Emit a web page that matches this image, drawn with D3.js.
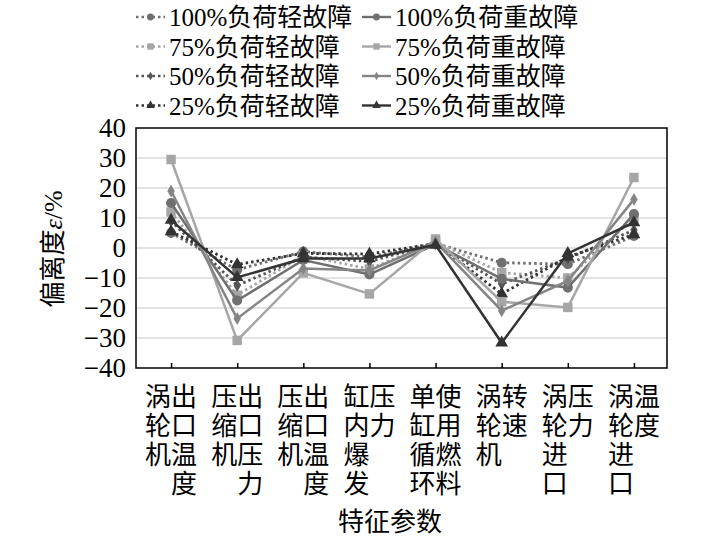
<!DOCTYPE html>
<html>
<head>
<meta charset="utf-8">
<script src="https://cdn.jsdelivr.net/npm/d3@7"></script>
<style>
  body { margin: 0; background: #fff; }
  text { font-family: "Liberation Serif", "Times New Roman", "DejaVu Serif", "Noto Sans CJK SC", serif; fill: #000; }
</style>
</head>
<body>
<div class="chart"></div>
<script>
// categories, each as two vertical columns of characters
const categories = ["涡轮机出口温度", "压缩机出口压力", "压缩机出口温度", "缸内爆发压力",
    "单缸循环使用燃料", "涡轮机转速", "涡轮进口压力", "涡轮进口温度"];
const labelCols = [["涡轮机", "出口温度"], ["压缩机", "出口压力"], ["压缩机", "出口温度"], ["缸内爆发", "压力"],
    ["单缸循环", "使用燃料"], ["涡轮机", "转速"], ["涡轮进口", "压力"], ["涡轮进口", "温度"]];

const seriesNames = ["100%负荷轻故障", "75%负荷轻故障", "50%负荷轻故障", "25%负荷轻故障",
    "100%负荷重故障", "75%负荷重故障", "50%负荷重故障", "25%负荷重故障"];

const light100 = [5, -7.3, -1.2, -3, 1.5, -4.9, -5.4, 4];
const light75 = [12, -15.7, -2.5, -7, 2, -8.2, -10, 10];
const light50 = [9, -12.5, -3, -4.5, 1.5, -12, -3.5, 6];
const light25 = [5.5, -5.5, -1.8, -2, 1.5, -15.3, -3, 4.5];
const heavy100 = [15, -17.5, -4, -8.8, 1.2, -10.3, -13.2, 11.3];
const heavy75 = [29.5, -30.8, -8.3, -15.3, 3, -17.9, -19.8, 23.5];
const heavy50 = [19, -23.5, -6.8, -7.5, 2, -20.9, -11, 16.2];
const heavy25 = [9.3, -9.8, -3.5, -3.5, 1, -31.6, -1.8, 8.5];

const yTicks = [-40, -30, -20, -10, 0, 10, 20, 30, 40];

const seriesValues = [light100, light75, light50, light25, heavy100, heavy75, heavy50, heavy25];
const colors = ["#707070", "#a6a6a6", "#555555", "#333333", "#707070", "#a6a6a6", "#858585", "#333333"];
const symbols = [d3.symbolCircle, d3.symbolSquare, d3.symbolDiamond, d3.symbolTriangle,
    d3.symbolCircle, d3.symbolSquare, d3.symbolDiamond, d3.symbolTriangle];
const symSizes = [80, 90, 48, 70, 80, 90, 48, 70];

const W = 709, H = 537;
const plot = { left: 136, right: 667, top: 128, bottom: 368 };
const serif = "'Liberation Serif', 'Times New Roman', 'DejaVu Serif', serif";

const svg = d3.select(".chart").append("svg")
    .attr("width", W)
    .attr("height", H);

const x = d3.scalePoint()
    .domain(categories)
    .range([138, plot.right])
    .padding(0.5);
const y = d3.scaleLinear()
    .domain([-40, 40])
    .range([plot.bottom, plot.top]);

// grid lines
svg.append("g")
    .selectAll("line")
    .data(yTicks.filter(d => d > -40 && d < 40))
    .enter()
    .append("line")
    .attr("x1", plot.left)
    .attr("x2", plot.right)
    .attr("y1", d => y(d))
    .attr("y2", d => y(d))
    .attr("stroke", "#c8c8c8")
    .attr("stroke-width", 1.2);

// y axis labels
const yAxis = d3.axisLeft(y).tickValues(yTicks).tickSize(0).tickPadding(10);
const yg = svg.append("g")
    .attr("transform", `translate(${plot.left},0)`)
    .call(yAxis);
yg.select(".domain").remove();
yg.selectAll("text")
    .style("font-size", "27px")
    .style("font-family", serif);

// x ticks (inside)
const xAxis = d3.axisTop(x).tickSize(5).tickFormat("");
const xg = svg.append("g")
    .attr("transform", `translate(0,${plot.bottom})`)
    .call(xAxis);
xg.select(".domain").remove();
xg.selectAll("line").attr("stroke", "#000").attr("stroke-width", 1.5);

// frame
svg.append("rect")
    .attr("x", plot.left)
    .attr("y", plot.top)
    .attr("width", plot.right - plot.left)
    .attr("height", plot.bottom - plot.top)
    .attr("fill", "none")
    .attr("stroke", "#000")
    .attr("stroke-width", 1.5);

// series lines and markers
const line = d3.line()
    .x((d, i) => x(categories[i]))
    .y(d => y(d));

seriesValues.forEach((vals, s) => {
    const dotted = s < 4;
    svg.append("path")
        .datum(vals)
        .attr("d", line)
        .attr("fill", "none")
        .attr("stroke", colors[s])
        .attr("stroke-width", dotted ? 2.8 : 2.5)
        .attr("stroke-dasharray", dotted ? "2.5,3" : null);
    svg.append("g")
        .selectAll("path")
        .data(vals)
        .enter()
        .append("path")
        .attr("transform", (d, i) => `translate(${x(categories[i])},${y(d)})`)
        .attr("d", d3.symbol().type(symbols[s]).size(symSizes[s]))
        .attr("fill", colors[s]);
});

// x category labels, vertical columns of characters
const colGap = 26, rowGap = 29, row0 = 406;
labelCols.forEach((cols, i) => {
    const cx = x(categories[i]);
    cols.forEach((str, c) => {
        Array.from(str).forEach((ch, r) => {
            svg.append("text")
                .attr("x", cx + (c === 0 ? -colGap / 2 : colGap / 2))
                .attr("y", row0 + r * rowGap)
                .attr("text-anchor", "middle")
                .style("font-size", "26px")
                .text(ch);
        });
    });
});

// axis titles
svg.append("text")
    .attr("x", 390)
    .attr("y", 531)
    .attr("text-anchor", "middle")
    .style("font-size", "26px")
    .text("特征参数");

const yt = svg.append("text")
    .attr("transform", "translate(62,249) rotate(-90)")
    .attr("text-anchor", "middle")
    .style("font-size", "26px");
yt.append("tspan").text("偏离度");
yt.append("tspan").style("font-style", "italic").text("ε");
yt.append("tspan").text("/%");

// legend
const legend = svg.append("g").attr("class", "legend");
seriesNames.forEach((name, s) => {
    const col = s < 4 ? 0 : 1;
    const row = s % 4;
    const lx = col === 0 ? 136 : 362;
    const ly = 17 + row * 29.5;
    const g = legend.append("g");
    g.append("line")
        .attr("x1", lx)
        .attr("x2", lx + 29)
        .attr("y1", ly)
        .attr("y2", ly)
        .attr("stroke", colors[s])
        .attr("stroke-width", 2.4)
        .attr("stroke-dasharray", s < 4 ? "2.5,3" : null);
    g.append("path")
        .attr("transform", `translate(${lx + 14.5},${ly})`)
        .attr("d", d3.symbol().type(symbols[s]).size(symSizes[s] * 0.45))
        .attr("fill", colors[s]);
    g.append("text")
        .attr("x", lx + 33)
        .attr("y", ly + 9)
        .style("font-size", "25px")
        .text(name);
});
</script>
</body>
</html>
